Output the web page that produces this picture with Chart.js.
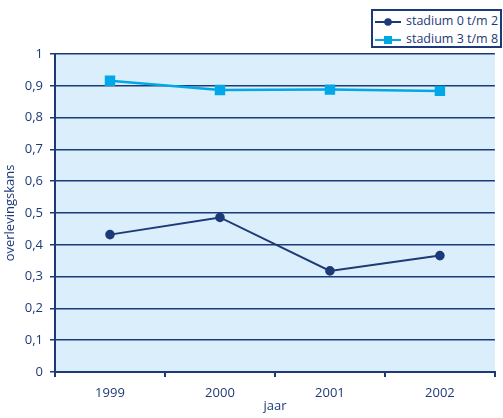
<!DOCTYPE html>
<html>
<head>
<meta charset="utf-8">
<script src="https://cdn.jsdelivr.net/npm/chart.js@4.4.1/dist/chart.umd.min.js"></script>
<style>
  html, body { margin: 0; padding: 0; background: #fff; }
  #wrap { position: relative; width: 503px; height: 418px; }
  #legend {
    position: absolute; left: 371px; top: 9px; width: 131px; height: 39px;
    box-sizing: border-box; padding-top: 1px;
    border: 2px solid #1d3a78; background: #fff;
    font-family: "Open Sans", sans-serif; font-size: 12.5px; color: #1d3a78;
  }
  #legend div { height: 18px; line-height: 18px; white-space: nowrap; }
  #legend svg { vertical-align: middle; margin: 0 5px 0 2px; }
</style>
</head>
<body>
<div id="wrap">
  <canvas id="chart" width="503" height="418"></canvas>
  <div id="legend"></div>
</div>
<script>
const years = ["1999", "2000", "2001", "2002"];
const stadium0tm2 = [0.432, 0.486, 0.318, 0.366];
const stadium3tm8 = [0.916, 0.887, 0.888, 0.884];
const yTickLabels = ["0", "0,1", "0,2", "0,3", "0,4", "0,5", "0,6", "0,7", "0,8", "0,9", "1"];

const navy = "#1d3a78";
const cyan = "#00a8e8";
const textFont = { family: "'Open Sans', sans-serif", size: 13 };

const plotBackground = {
  id: "plotBackground",
  beforeDraw(chart) {
    const { ctx, chartArea } = chart;
    ctx.save();
    ctx.fillStyle = "#dbeefc";
    ctx.fillRect(chartArea.left, chartArea.top, chartArea.right - chartArea.left, chartArea.bottom - chartArea.top);
    ctx.restore();
  }
};

Chart.defaults.animation = false;

const chart = new Chart(document.getElementById("chart").getContext("2d"), {
  type: "line",
  data: {
    labels: years,
    datasets: [
      {
        label: "stadium 0 t/m 2",
        data: stadium0tm2,
        borderColor: navy,
        backgroundColor: navy,
        borderWidth: 2,
        pointStyle: "circle",
        pointRadius: 3.8,
        tension: 0,
      },
      {
        label: "stadium 3 t/m 8",
        data: stadium3tm8,
        borderColor: cyan,
        backgroundColor: cyan,
        borderWidth: 2.5,
        pointStyle: "rect",
        pointRadius: 5.6,
        tension: 0,
      },
    ],
  },
  options: {
    responsive: false,
    layout: { padding: { top: 54, right: -4, left: 2, bottom: 0 } },
    plugins: {
      legend: { display: false },
      tooltip: { enabled: false },
    },
    scales: {
      x: {
        offset: true,
        grid: {
          offset: true,
          drawOnChartArea: false,
          drawTicks: true,
          tickLength: 5,
          color: navy,
          lineWidth: 2,
        },
        border: { color: navy, width: 2 },
        ticks: { color: navy, font: textFont, padding: 8 },
        title: { display: true, text: "jaar", color: navy, font: textFont, padding: { top: 2 } },
        afterFit(scale) { scale.height = 46; },
      },
      y: {
        min: 0,
        max: 1,
        grid: { color: navy, lineWidth: 1.5, tickLength: 5 },
        border: { color: navy, width: 2 },
        ticks: {
          stepSize: 0.1,
          color: navy,
          font: textFont,
          padding: 7,
          callback: (v, i) => yTickLabels[i],
        },
        title: { display: true, text: "overlevingskans", color: navy, font: textFont, padding: 0 },
        afterFit(scale) { scale.width = 53; },
      },
    },
  },
  plugins: [plotBackground],
});

// legend with line + marker symbols
const legendEl = document.getElementById("legend");
chart.data.datasets.forEach(ds => {
  const row = document.createElement("div");
  const marker = ds.pointStyle === "rect"
    ? '<rect x="9" y="1" width="8" height="8" fill="' + ds.borderColor + '"/>'
    : '<circle cx="13" cy="5" r="3.8" fill="' + ds.borderColor + '"/>';
  row.innerHTML =
    '<svg width="26" height="10"><line x1="0" y1="5" x2="26" y2="5" stroke="' + ds.borderColor +
    '" stroke-width="2"/>' + marker + '</svg>' + ds.label;
  legendEl.appendChild(row);
});
</script>
</body>
</html>
